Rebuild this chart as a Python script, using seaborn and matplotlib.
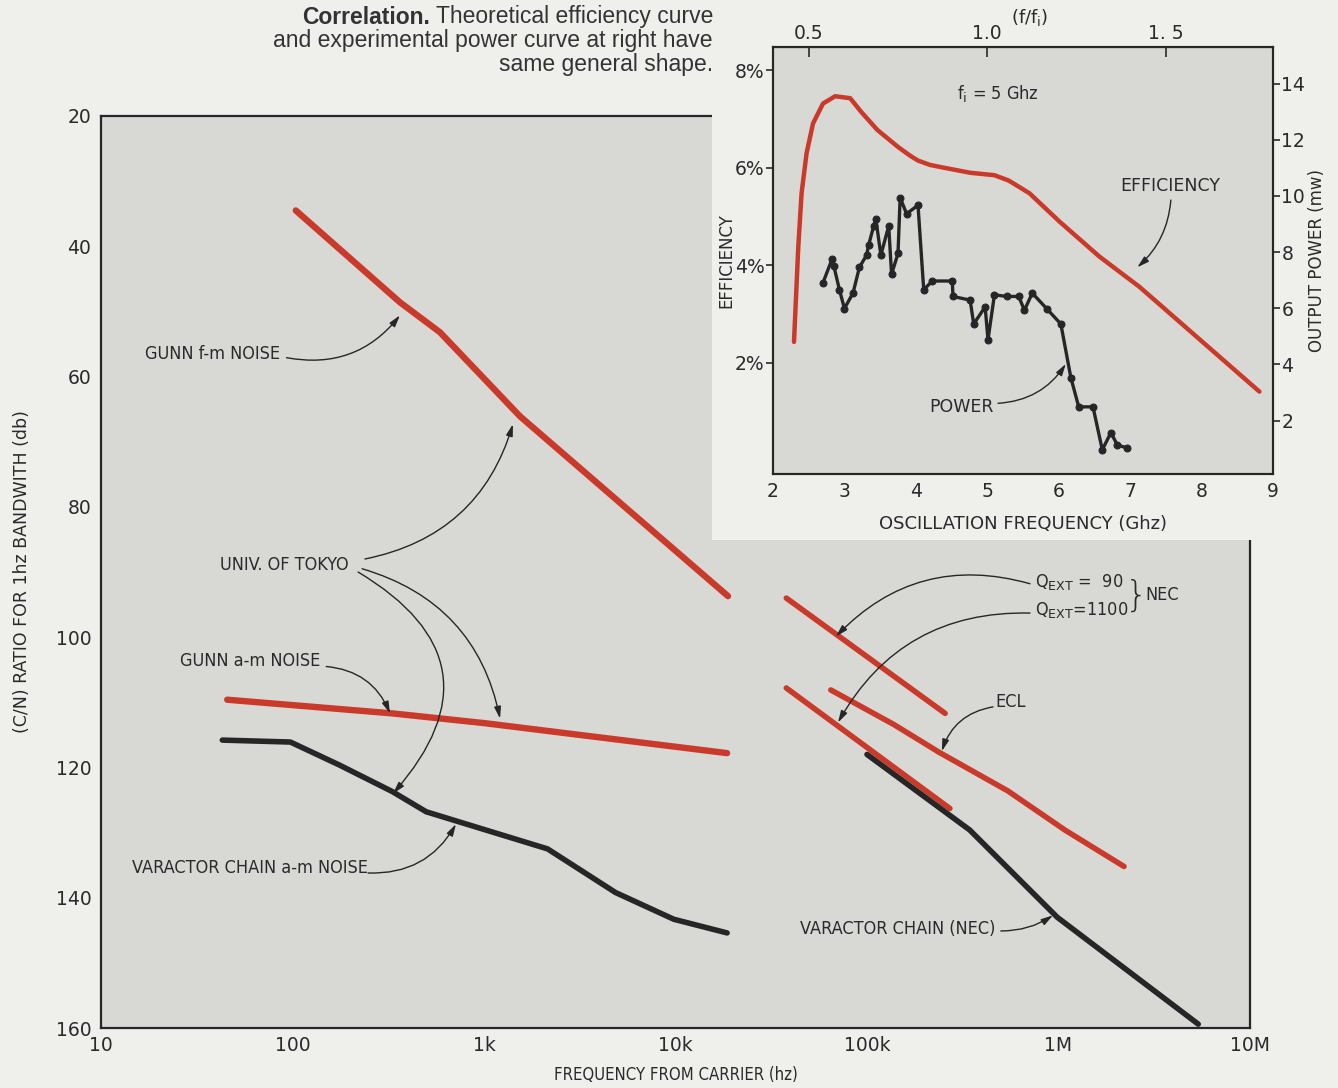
import numpy as np
import pandas as pd
import matplotlib
matplotlib.use('Agg')
import matplotlib.pyplot as plt
import matplotlib.patches as patches
import seaborn as sns

# main chart: frequency from carrier (hz) vs C/N ratio (db)
gunn_fm_f = [104, 364, 589, 1542, 18800]
gunn_fm_db = [34.5, 48.6, 53.2, 66.1, 93.7]
gunn_am_f = [45.6, 332, 1007, 18600]
gunn_am_db = [109.6, 111.7, 113.2, 117.8]
var_am_f = [43, 97.5, 175, 332, 499, 751, 2148, 4864, 9794, 18600]
var_am_db = [115.8, 116.1, 119.6, 123.7, 126.8, 128.4, 132.5, 139.2, 143.3, 145.4]
q90_f = [37900, 256000]
q90_db = [94.0, 111.7]
q1100_f = [37900, 271000]
q1100_db = [107.8, 126.3]
ecl_f = [64700, 138000, 239000, 544000, 1.08e6, 2.2e6]
ecl_db = [108.1, 113.4, 117.7, 123.6, 129.6, 135.2]
var_nec_f = [100000, 344000, 986000, 5.37e6]
var_nec_db = [118.0, 129.6, 143.0, 159.4]

x_ticks = [10, 100, 1e3, 1e4, 1e5, 1e6, 1e7]
x_ticklabels = ['10', '100', '1k', '10k', '100k', '1M', '10M']
y_ticks = [20, 40, 60, 80, 100, 120, 140, 160]

# inset: oscillation frequency (Ghz) vs efficiency (%) and output power (mw)
eff_ghz = [2.294, 2.354, 2.40, 2.47, 2.56, 2.70, 2.87, 3.08, 3.24, 3.46, 3.75, 3.92,
           4.03, 4.20, 4.37, 4.76, 5.10, 5.30, 5.59, 6.01, 6.57, 7.13, 8.81]
eff_pct = [2.43, 4.38, 5.48, 6.30, 6.91, 7.32, 7.47, 7.43, 7.14, 6.78, 6.43, 6.25,
           6.15, 6.06, 6.01, 5.90, 5.85, 5.74, 5.48, 4.90, 4.18, 3.56, 1.41]
pow_ghz = [2.70, 2.83, 2.85, 2.93, 3.00, 3.12, 3.21, 3.31, 3.34, 3.41, 3.44, 3.51,
           3.62, 3.66, 3.75, 3.78, 3.87, 4.03, 4.11, 4.23, 4.51, 4.52, 4.76, 4.81,
           4.97, 5.01, 5.10, 5.27, 5.44, 5.52, 5.63, 5.83, 6.03, 6.17, 6.28, 6.48,
           6.61, 6.73, 6.82, 6.96]
pow_mw = [6.91, 7.77, 7.52, 6.66, 5.99, 6.54, 7.46, 7.89, 8.26, 8.93, 9.18, 7.89,
          8.93, 7.21, 7.95, 9.94, 9.36, 9.67, 6.66, 6.97, 6.97, 6.42, 6.29, 5.44,
          6.05, 4.88, 6.48, 6.42, 6.42, 5.93, 6.54, 5.99, 5.44, 3.53, 2.49, 2.49,
          0.96, 1.57, 1.14, 1.02]

RED = '#c93a2a'
BLK = '#262626'
PAPER = '#efefec'
PLOT = '#d8d8d5'
TXT = '#2a2a2a'
W, H = 1338, 1088

sns.set_style('white')
plt.rcParams['font.family'] = ['Liberation Sans Narrow', 'DejaVu Sans']
lab = dict(fontsize=13, color=TXT, fontstretch='condensed')

fig = plt.figure(figsize=(W / 100, H / 100), dpi=100, facecolor=PAPER)

# ---- main chart
ax = fig.add_axes([0.0755, 0.0551, 0.8587, 0.8383], facecolor=PLOT)
ax.set_xscale('log')
for fx, fy, c, lw in [(gunn_fm_f, gunn_fm_db, RED, 4.6), (gunn_am_f, gunn_am_db, RED, 4.6),
                      (var_am_f, var_am_db, BLK, 4.0), (q90_f, q90_db, RED, 4.0),
                      (q1100_f, q1100_db, RED, 4.0), (ecl_f, ecl_db, RED, 4.0),
                      (var_nec_f, var_nec_db, BLK, 4.0)]:
    sns.lineplot(x=fx, y=fy, ax=ax, color=c, linewidth=lw, sort=False,
                 estimator=None, solid_capstyle='round', solid_joinstyle='round')
ax.set_xlim(10, 1e7)
ax.set_ylim(160, 20)
ax.set_xticks(x_ticks)
ax.set_xticklabels(x_ticklabels)
ax.set_yticks(y_ticks)
ax.minorticks_off()
ax.tick_params(axis='x', direction='in', length=9, width=1.3, labelsize=13.5,
               colors=TXT, pad=6)
ax.tick_params(axis='y', direction='out', length=6, width=1.3, labelsize=13.5,
               colors=TXT, pad=1)
for s in ax.spines.values():
    s.set_color(BLK)
    s.set_linewidth(1.6)
ax.set_xlabel('FREQUENCY FROM CARRIER (hz)', fontsize=12, color=TXT, labelpad=8,
              fontstretch='condensed')
ax.set_ylabel('(C/N) RATIO FOR 1hz BANDWITH (db)', fontsize=12.5, color=TXT,
              labelpad=18, family='DejaVu Sans')


def arrow(a, start, end, rad):
    a.annotate('', xy=end, xytext=start,
               arrowprops=dict(arrowstyle='-|>,head_length=0.7,head_width=0.2',
                               color=BLK, lw=1.0, shrinkA=0, shrinkB=0,
                               connectionstyle=f'arc3,rad={rad}'))


ax.text(17, 56.6, 'GUNN f-m NOISE', ha='left', va='center', **lab)
arrow(ax, (93, 57.1), (364, 50.6), 0.3)
ax.text(41.8, 88.9, 'UNIV. OF TOKYO', ha='left', va='center', **lab)
arrow(ax, (239, 88.0), (1416, 67.3), 0.3)
arrow(ax, (231, 89.5), (1213, 112.5), -0.3)
arrow(ax, (220, 90.0), (335, 124.0), -0.6)
ax.text(25.9, 103.6, 'GUNN a-m NOISE', ha='left', va='center', **lab)
arrow(ax, (150, 104.5), (323, 111.7), -0.3)
ax.text(14.5, 135.5, 'VARACTOR CHAIN a-m NOISE', ha='left', va='center', **lab)
arrow(ax, (248, 136.2), (714, 128.7), 0.3)
ax.text(754000, 91.5, r'Q$_{\rm EXT}$ =  90', ha='left', va='center', **lab)
ax.text(754000, 95.8, r'Q$_{\rm EXT}$=1100', ha='left', va='center', **lab)
ax.text(2.55e6, 93.6, '}', ha='center', va='center', fontsize=26, color=TXT,
        family='DejaVu Sans', fontweight='light')
ax.text(2.85e6, 93.6, 'NEC', ha='left', va='center', **lab)
arrow(ax, (710000, 91.8), (68900, 99.9), 0.3)
arrow(ax, (710000, 96.3), (70600, 113.1), 0.3)
ax.text(466000, 110.0, 'ECL', ha='left', va='center', **lab)
arrow(ax, (455000, 110.7), (246000, 117.5), 0.3)
ax.text(44700, 144.8, 'VARACTOR CHAIN (NEC)', ha='left', va='center', **lab)
arrow(ax, (500000, 145.1), (936000, 142.7), 0.15)

# white box behind the inset
fig.patches.append(patches.Rectangle((712 / W, 1 - 540 / H), 1 - 712 / W, 540 / H,
                                     transform=fig.transFigure, facecolor=PAPER,
                                     edgecolor='none', zorder=1))

# ---- inset chart
ax2 = fig.add_axes([773 / W, 1 - 474 / H, 500 / W, 427 / H], facecolor=PLOT)
ax2.set_zorder(2)
sns.lineplot(x=eff_ghz, y=eff_pct, ax=ax2, color=RED, linewidth=3.2, sort=False,
             estimator=None, solid_capstyle='round', solid_joinstyle='round')
ax2.set_xlim(2, 9)
ax2.set_ylim(-0.28, 8.48)
ax2.set_xticks(range(2, 10))
ax2.set_yticks([2, 4, 6, 8])
ax2.set_yticklabels(['2%', '4%', '6%', '8%'])
ax2.tick_params(axis='x', direction='in', length=7, width=1.2, labelsize=13.5,
                colors=TXT, pad=6)
ax2.tick_params(axis='y', direction='out', length=5, width=1.2, labelsize=13.5,
                colors=TXT, pad=1)
ax2.set_xlabel('OSCILLATION FREQUENCY (Ghz)', fontsize=13, color=TXT, labelpad=10,
               family='DejaVu Sans')
ax2.set_ylabel('EFFICIENCY', fontsize=12, color=TXT, labelpad=0, family='DejaVu Sans')
for s in ax2.spines.values():
    s.set_color(BLK)
    s.set_linewidth(1.5)

ax3 = ax2.twinx()
sns.lineplot(x=pow_ghz, y=pow_mw, ax=ax3, color=BLK, linewidth=2.4, sort=False,
             estimator=None, marker='o', markersize=5, markeredgecolor=BLK)
ax3.set_ylim(0.1, 15.3)
ax3.set_yticks([2, 4, 6, 8, 10, 12, 14])
ax3.tick_params(axis='y', direction='out', length=5, width=1.2, labelsize=13.5,
                colors=TXT, pad=1)
ax3.set_ylabel('OUTPUT POWER (mw)', fontsize=12, color=TXT, labelpad=2,
               family='DejaVu Sans')
for s in ax3.spines.values():
    s.set_color(BLK)
    s.set_linewidth(1.5)

top = ax2.secondary_xaxis('top', functions=(lambda v: v / 5, lambda v: v * 5))
top.set_xticks([0.5, 1.0, 1.5])
top.set_xticklabels(['0.5', '1.0', '1. 5'])
top.tick_params(direction='in', length=7, width=1.2, labelsize=13.5, colors=TXT, pad=3)
ax2.text(0.514, 1.068, r'(f/f$_{\rm i}$)', transform=ax2.transAxes, ha='center',
         va='center', fontsize=13, color=TXT, clip_on=False)

ax2.text(5.15, 7.52, r'f$_{\rm i}$ = 5 Ghz', ha='center', va='center', **lab)
ax2.text(7.56, 5.62, 'EFFICIENCY', ha='center', va='center', fontsize=12.5,
         color=TXT, family='DejaVu Sans')
arrow(ax2, (7.57, 5.34), (7.10, 3.96), -0.2)
ax2.text(4.64, 1.10, 'POWER', ha='center', va='center', fontsize=12.5, color=TXT,
         family='DejaVu Sans')
arrow(ax2, (5.15, 1.17), (6.10, 1.98), 0.25)

# ---- caption, right aligned with a bold lead word
fig.canvas.draw()
rend = fig.canvas.get_renderer()
cap = dict(fontsize=16.5, color='#333333', family='Liberation Sans', va='center')
t1 = fig.text(713 / W, 1 - 17 / H, ' Theoretical efficiency curve', ha='right', **cap)
bb = t1.get_window_extent(renderer=rend)
fig.text(bb.x0 / W, 1 - 17 / H, 'Correlation.', ha='right', fontweight='bold', **cap)
fig.text(713 / W, 1 - 41 / H, 'and experimental power curve at right have', ha='right', **cap)
fig.text(713 / W, 1 - 65 / H, 'same general shape.', ha='right', **cap)

fig.savefig('out.png', dpi=100, facecolor=PAPER)
